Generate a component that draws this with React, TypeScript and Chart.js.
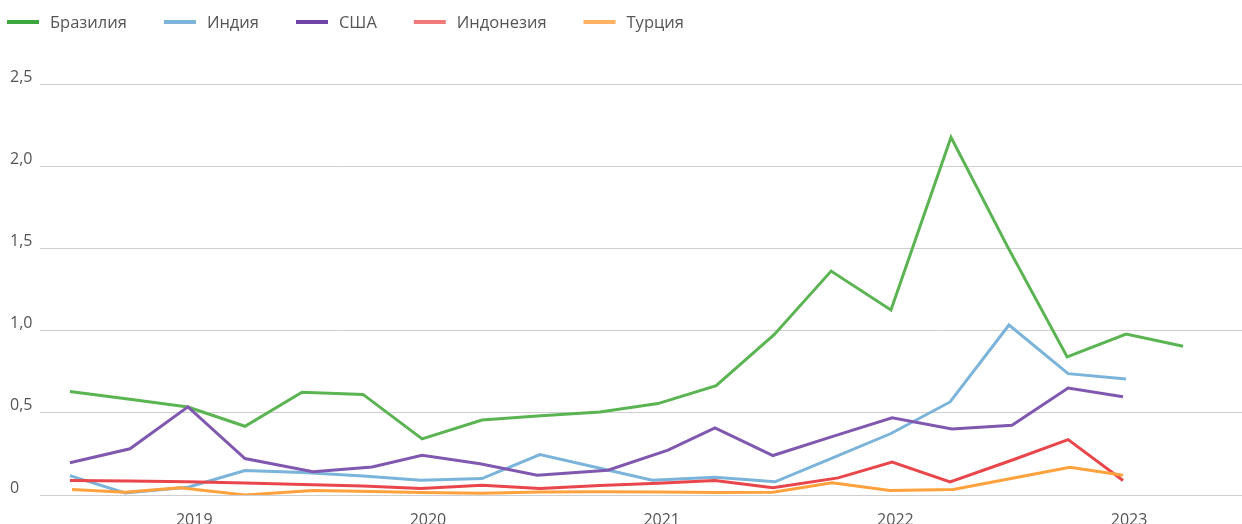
import React, { useEffect, useRef } from 'react';
import { Chart, registerables } from 'chart.js';

Chart.register(...registerables);

const FONT = '"Open Sans", "Noto Sans", sans-serif';

const seriesNames = ['Бразилия', 'Индия', 'США', 'Индонезия', 'Турция'];
const lineColors = ['#5bb452', '#7bb4da', '#8058b0', '#e8464b', '#ffa23e'];
const legendColors = ['#3da63f', '#7db4dc', '#6e44a6', '#f07a7a', '#ffb062'];

// x values are decimal years (date of each observation)
const brazilX = [2018.468, 2018.725, 2018.973, 2019.217, 2019.461, 2019.722, 2019.975, 2020.231, 2020.484, 2020.736, 2020.984, 2021.233, 2021.481, 2021.725, 2021.981, 2022.238, 2022.482, 2022.735, 2022.987, 2023.231];
const brazilY = [0.629, 0.583, 0.535, 0.418, 0.625, 0.612, 0.341, 0.456, 0.482, 0.505, 0.556, 0.665, 0.975, 1.362, 1.125, 2.176, 1.505, 0.84, 0.979, 0.905];

const indiaX = [2018.468, 2018.704, 2018.973, 2019.217, 2019.465, 2019.722, 2019.97, 2020.231, 2020.479, 2020.736, 2020.96, 2021.228, 2021.485, 2021.729, 2021.981, 2022.234, 2022.486, 2022.739, 2022.987];
const indiaY = [0.118, 0.013, 0.047, 0.149, 0.137, 0.115, 0.09, 0.1, 0.246, 0.163, 0.09, 0.108, 0.08, 0.225, 0.374, 0.566, 1.034, 0.738, 0.706];

const usaX = [2018.468, 2018.725, 2018.973, 2019.217, 2019.508, 2019.761, 2019.975, 2020.223, 2020.467, 2020.77, 2021.027, 2021.228, 2021.476, 2021.729, 2021.986, 2022.242, 2022.499, 2022.739, 2022.974];
const usaY = [0.196, 0.281, 0.536, 0.222, 0.141, 0.17, 0.242, 0.19, 0.12, 0.151, 0.273, 0.408, 0.24, 0.355, 0.469, 0.402, 0.424, 0.651, 0.597];

const indonesiaX = [2018.468, 2018.721, 2018.973, 2019.217, 2019.465, 2019.722, 2019.97, 2020.231, 2020.479, 2020.736, 2020.984, 2021.228, 2021.476, 2021.755, 2021.986, 2022.234, 2022.495, 2022.739, 2022.974];
const indonesiaY = [0.088, 0.085, 0.08, 0.073, 0.064, 0.055, 0.04, 0.06, 0.04, 0.058, 0.072, 0.088, 0.044, 0.104, 0.2, 0.08, 0.21, 0.337, 0.088];

const turkeyX = [2018.477, 2018.704, 2018.939, 2019.217, 2019.508, 2019.761, 2019.97, 2020.231, 2020.479, 2020.736, 2020.984, 2021.228, 2021.476, 2021.729, 2021.977, 2022.247, 2022.495, 2022.747, 2022.974];
const turkeyY = [0.033, 0.017, 0.044, 0.0, 0.027, 0.022, 0.015, 0.01, 0.018, 0.02, 0.018, 0.015, 0.017, 0.074, 0.027, 0.033, 0.1, 0.169, 0.12];

const yearTicks = [2019, 2020, 2021, 2022, 2023];
const xMin = 2018.34;
const xMax = 2023.483;

const seriesX = [brazilX, indiaX, usaX, indonesiaX, turkeyX];
const seriesY = [brazilY, indiaY, usaY, indonesiaY, turkeyY];

const topLegend = {
  id: 'topLegend',
  afterDraw(chart: any) {
    const ctx = chart.ctx;
    ctx.save();
    ctx.font = `16.5px ${FONT}`;
    ctx.textBaseline = 'middle';
    ctx.textAlign = 'left';
    let x = 7;
    const y = 22;
    chart.data.datasets.forEach((ds: any, i: number) => {
      ctx.fillStyle = legendColors[i];
      ctx.fillRect(x, y - 2, 32, 4);
      ctx.fillStyle = '#555555';
      ctx.fillText(ds.label, x + 43, y + 1);
      x += 43 + ctx.measureText(ds.label).width + 37;
    });
    ctx.restore();
  },
};

export default function App() {
  const canvasRef = useRef<HTMLCanvasElement | null>(null);

  useEffect(() => {
    if (!canvasRef.current) return;
    Chart.defaults.font.family = FONT;
    const datasets = seriesNames.map((name, i) => ({
      label: name,
      data: seriesX[i].map((x, j) => ({ x, y: seriesY[i][j] })),
      borderColor: lineColors[i],
      backgroundColor: lineColors[i],
      borderWidth: 3,
      pointRadius: 0,
      pointHoverRadius: 0,
      tension: 0,
      fill: false,
      order: seriesNames.length - i,
    }));
    const chart = new Chart(canvasRef.current, {
      type: 'line',
      data: { datasets },
      plugins: [topLegend],
      options: {
        animation: false,
        responsive: false,
        maintainAspectRatio: false,
        layout: { padding: { left: 10, right: 0, top: 84, bottom: 0 } },
        plugins: {
          legend: { display: false },
          tooltip: { enabled: false },
        },
        scales: {
          x: {
            type: 'linear',
            min: xMin,
            max: xMax,
            grid: { display: false, drawTicks: false },
            border: { display: false },
            afterBuildTicks: (scale: any) => {
              scale.ticks = yearTicks.map((v) => ({ value: v }));
            },
            afterFit: (scale: any) => {
              scale.height = 29;
            },
            ticks: {
              autoSkip: false,
              maxRotation: 0,
              padding: 16,
              color: '#555555',
              font: { size: 16, family: FONT },
              callback: (v: any) => String(v),
            },
          },
          y: {
            min: 0,
            max: 2.5,
            grid: { color: '#cfcfcf', lineWidth: 1, drawTicks: false },
            border: { display: false },
            afterFit: (scale: any) => {
              scale.width = 30;
            },
            ticks: {
              stepSize: 0.5,
              crossAlign: 'far',
              labelOffset: -7,
              padding: 0,
              color: '#555555',
              font: { size: 16, family: FONT },
              callback: (v: any) => (v === 0 ? '0' : Number(v).toFixed(1).replace('.', ',')),
            },
          },
        },
      },
    });
    return () => chart.destroy();
  }, []);

  return (
    <div style={{ position: 'absolute', left: 0, top: 0, width: 1242, height: 524, background: '#ffffff' }}>
      <canvas ref={canvasRef} width={1242} height={524} />
    </div>
  );
}
